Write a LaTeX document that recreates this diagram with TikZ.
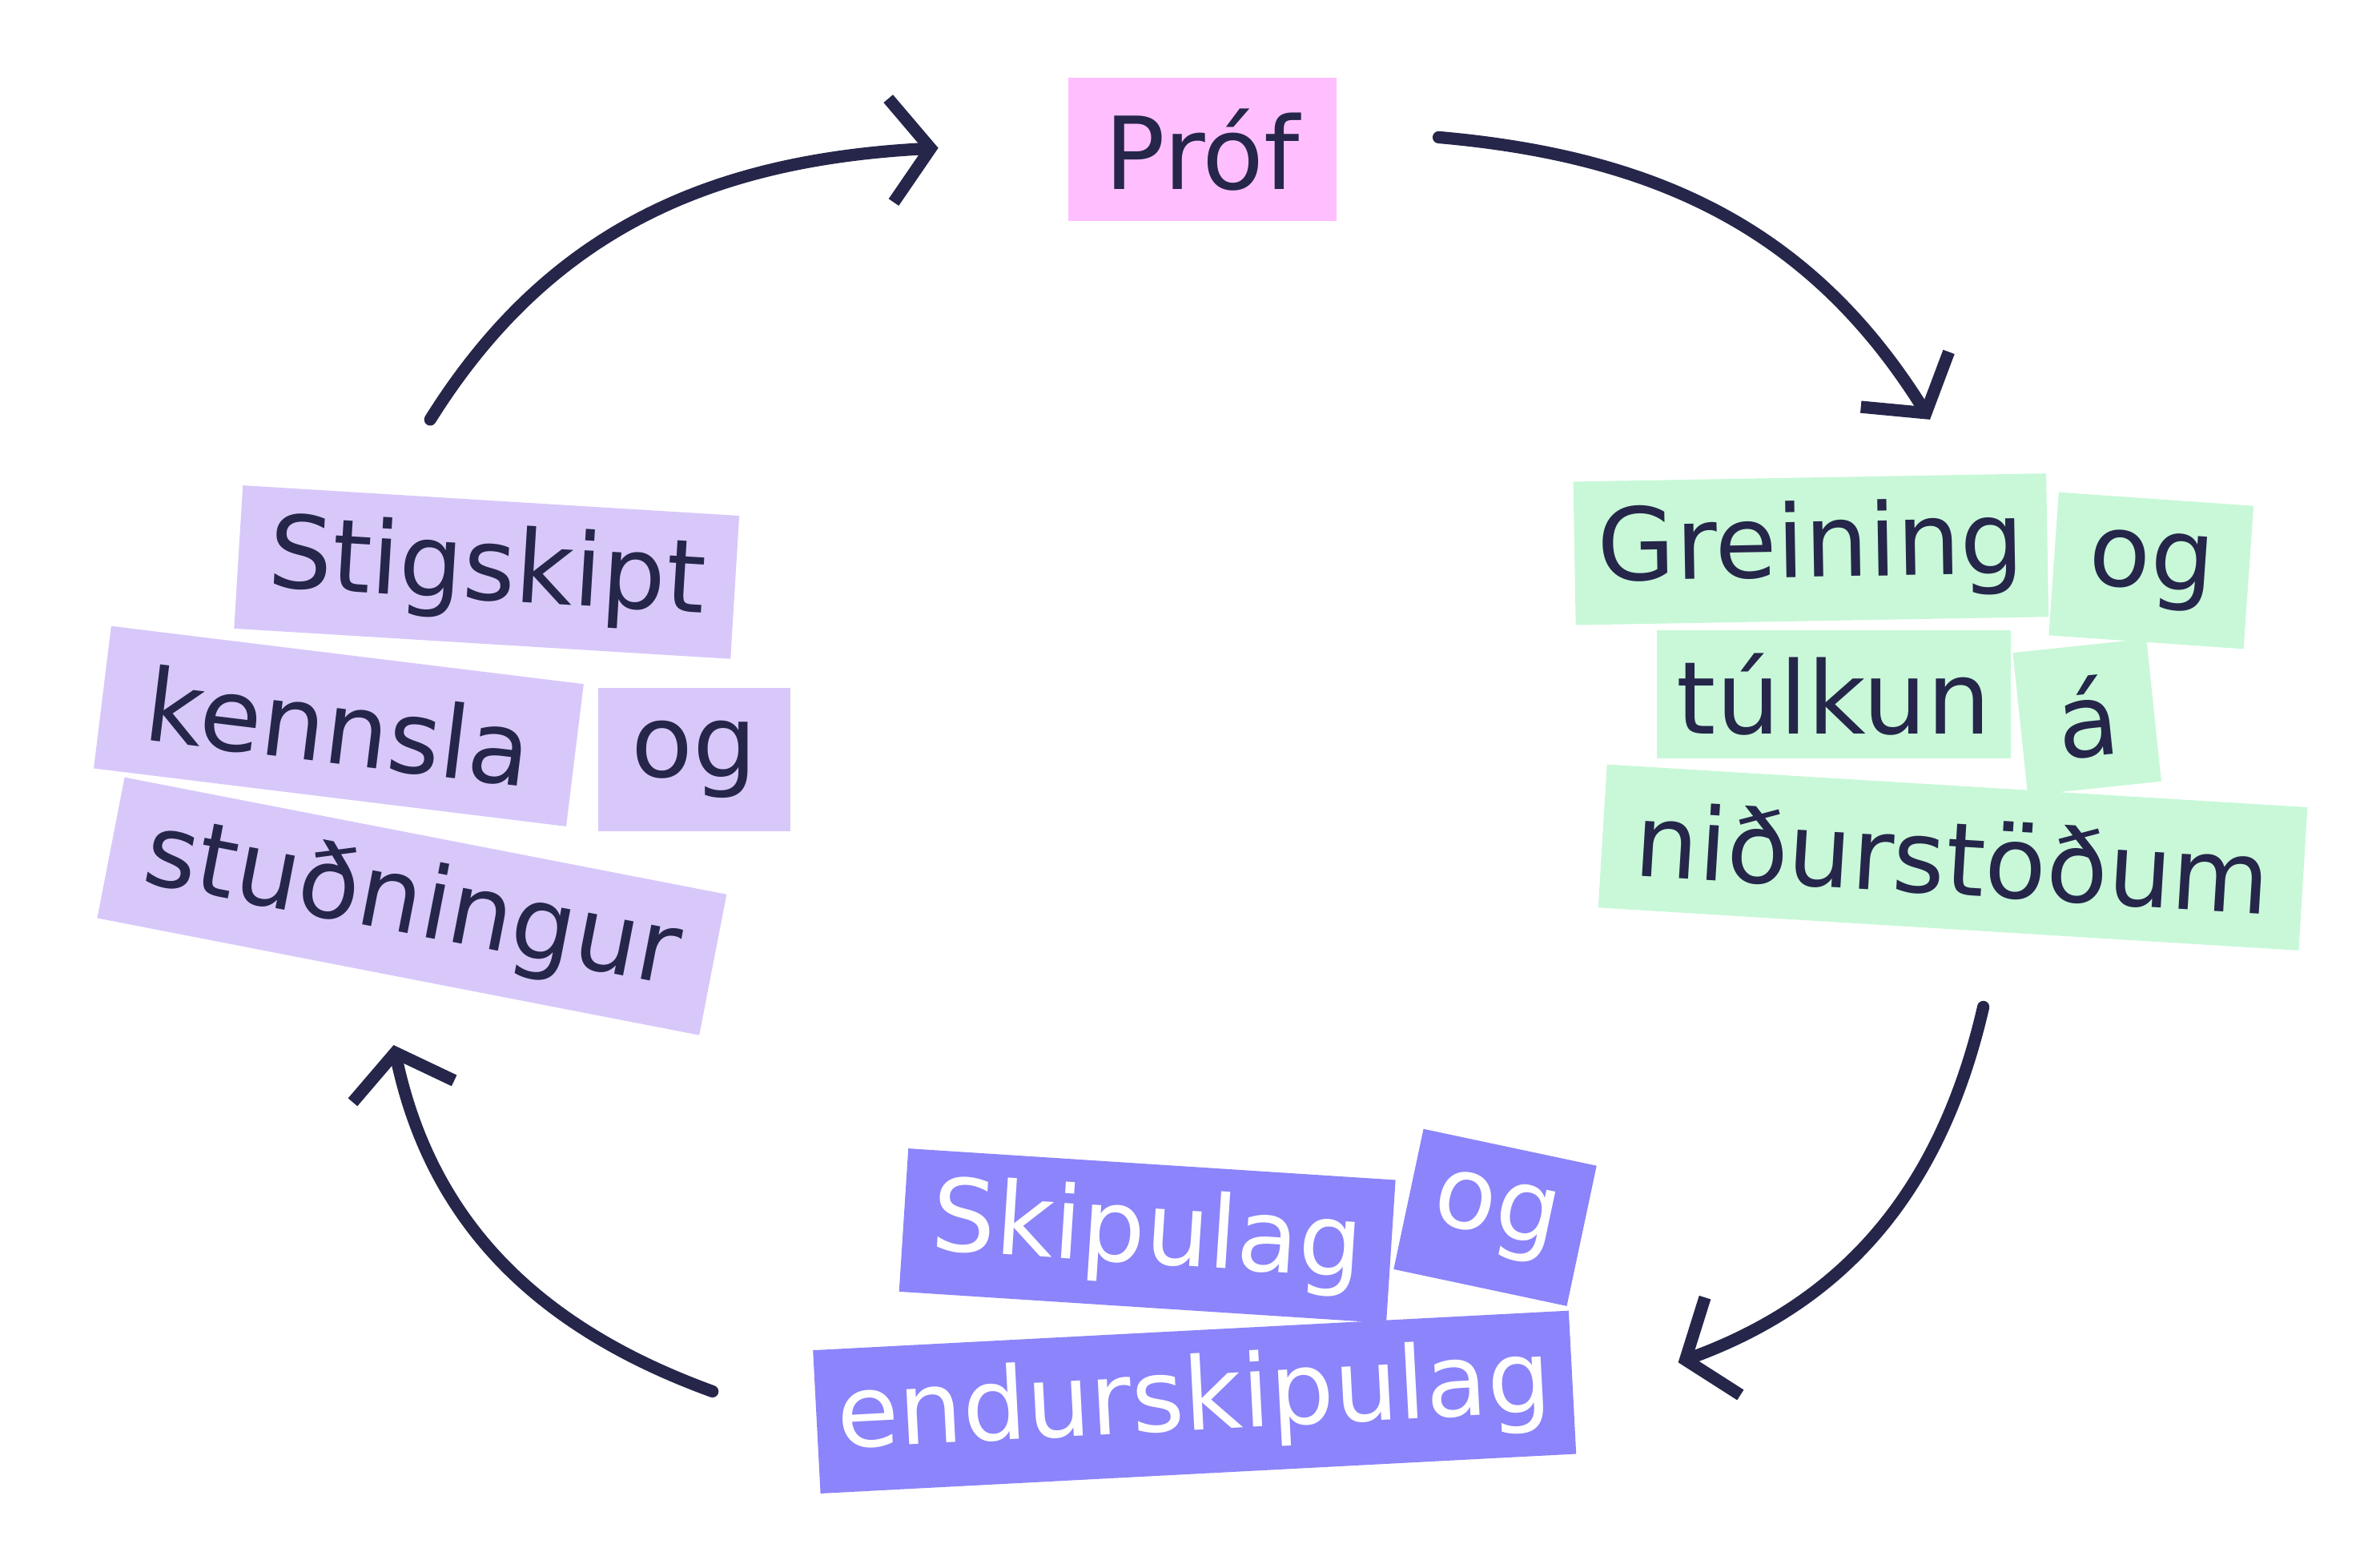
\documentclass[tikz,border=0pt]{standalone}
\usepackage{fontspec}
\setmainfont{DejaVu Sans}
\usetikzlibrary{arrows.meta}
\definecolor{inkdark}{HTML}{25264A}
\definecolor{pinkbox}{HTML}{FFBFFF}
\definecolor{lilacbox}{HTML}{D8C8FA}
\definecolor{greenbox}{HTML}{C8F8D8}
\definecolor{violetbox}{HTML}{8C84FA}
\tikzset{
  word/.style={inner sep=0pt, text=inkdark, font=\fontsize{33}{35}\selectfont, minimum height=47pt},
  pinkword/.style={word, fill=pinkbox},
  lilacword/.style={word, fill=lilacbox},
  greenword/.style={word, fill=greenbox},
  violetword/.style={word, fill=violetbox, text=white},
  cyclearrow/.style={draw=inkdark, line width=4pt, line cap=round,
    -{Straight Barb[length=13pt,width=34pt,line width=4pt]}}
}
\begin{document}
\begin{tikzpicture}[x=0.5pt,y=0.5pt]
\useasboundingbox (0,0) rectangle (1560,1025);

% top
\node[pinkword, minimum width=88pt] (prof) at (788,927) {Próf};

% right
\node[greenword, minimum width=155pt, rotate=1] (greining) at (1187,665) {Greining};
\node[greenword, minimum width=64pt, rotate=-4] (oggreen) at (1410,651) {og};
\node[greenword, minimum width=116pt, minimum height=42pt] (tulkun) at (1202,570) {túlkun};
\node[greenword, minimum width=44pt, rotate=6] (aa) at (1368,555) {á};
\node[greenword, minimum width=230pt, rotate=-3.5] (nidurst) at (1280,463) {niðurstöðum};

% bottom
\node[violetword, minimum width=160pt, rotate=-3.7] (skipulag) at (752,215) {Skipulag};
\node[violetword, minimum width=58pt, rotate=-12] (ogviolet) at (980,227) {og};
\node[violetword, minimum width=248pt, rotate=3] (endursk) at (783,106) {endurskipulag};

% left
\node[lilacword, minimum width=163pt, rotate=-3.5] (stigskipt) at (319,650) {Stigskipt};
\node[lilacword, minimum width=156pt, rotate=-7] (kennsla) at (222,549) {kennsla};
\node[lilacword, minimum width=63pt] (oglilac) at (455,527) {og};
\node[lilacword, minimum width=201pt, rotate=-11] (studningur) at (270,431) {stuðningur};

% arrows
\coordinate (a1s) at (282,750);
\coordinate (a1e) at (615,928);
\coordinate (a2s) at (943,935);
\coordinate (a2e) at (1265,750);
\coordinate (a3s) at (1300,365);
\coordinate (a3e) at (1100,132);
\coordinate (a4s) at (467,113);
\coordinate (a4e) at (258,340);
\draw[cyclearrow] (a1s) to[out=58,in=183] (a1e);
\draw[cyclearrow] (a2s) to[out=-5,in=122] (a2e);
\draw[cyclearrow] (a3s) to[out=-103,in=20] (a3e);
\draw[cyclearrow] (a4s) to[out=160,in=-78] (a4e);
\end{tikzpicture}
\end{document}
